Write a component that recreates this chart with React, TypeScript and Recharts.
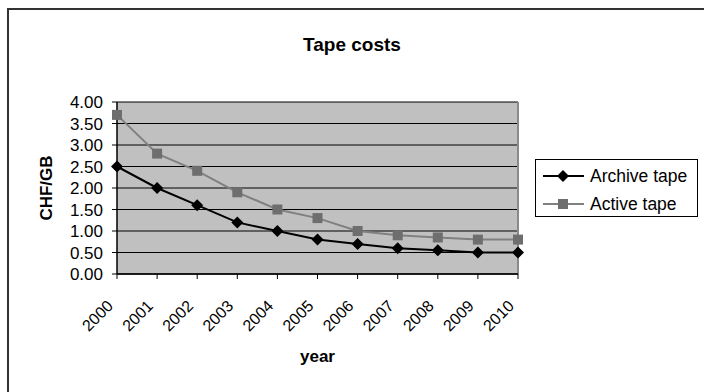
import { LineChart, Line, XAxis, YAxis, CartesianGrid, Legend, ReferenceLine } from "recharts";

const years = ["2000", "2001", "2002", "2003", "2004", "2005", "2006", "2007", "2008", "2009", "2010"];
const archiveTape = [2.5, 2.0, 1.6, 1.2, 1.0, 0.8, 0.7, 0.6, 0.55, 0.5, 0.5];
const activeTape = [3.7, 2.8, 2.4, 1.9, 1.5, 1.3, 1.0, 0.9, 0.85, 0.8, 0.8];
const yTicks = [0, 0.5, 1, 1.5, 2, 2.5, 3, 3.5, 4];

const data = years.map((year, i) => ({ year, archive: archiveTape[i], active: activeTape[i] }));

const FONT = "Arial, 'Liberation Sans', sans-serif";
const ACTIVE_LINE = "#808080";
const ACTIVE_MARK = "#6e6e6e";

const Diamond = ({ cx, cy, r = 6 }: any) => {
  if (cx == null || cy == null) return null;
  return <polygon points={`${cx},${cy - r} ${cx + r},${cy} ${cx},${cy + r} ${cx - r},${cy}`} fill="#000" />;
};

const Square = ({ cx, cy, s = 10 }: any) => {
  if (cx == null || cy == null) return null;
  return <rect x={cx - s / 2} y={cy - s / 2} width={s} height={s} fill={ACTIVE_MARK} />;
};

const YearTick = ({ x, y, payload }: any) => (
  <g transform={`translate(${x},${y})`}>
    <text x={-3} y={26} textAnchor="end" transform="rotate(-45, -3, 26)" fontSize={16} fill="#000" fontFamily={FONT}>
      {payload.value}
    </text>
  </g>
);

const YearLabel = ({ viewBox }: any) => (
  <text x={viewBox.x + viewBox.width / 2} y={viewBox.y + 88} textAnchor="middle" fontSize={17} fontWeight="bold" fontFamily={FONT} fill="#000">
    year
  </text>
);

const CostLabel = ({ viewBox }: any) => {
  const cx = viewBox.x - 11;
  const cy = viewBox.y + viewBox.height / 2;
  return (
    <text x={cx} y={cy} textAnchor="middle" dominantBaseline="central" transform={`rotate(-90, ${cx}, ${cy})`} fontSize={17} fontWeight="bold" fontFamily={FONT} fill="#000">
      CHF/GB
    </text>
  );
};

const LegendBox = () => {
  const rows = [
    { name: "Archive tape", color: "#000", mark: <Diamond cx={27} cy={14} r={6} /> },
    { name: "Active tape", color: ACTIVE_LINE, mark: <Square cx={27} cy={14} s={10} /> },
  ];
  return (
    <div style={{ width: 163, height: 58, boxSizing: "border-box", border: "1px solid #000", background: "#fff", paddingTop: 2 }}>
      {rows.map((r) => (
        <div key={r.name} style={{ display: "flex", alignItems: "center", height: 28 }}>
          <svg width={54} height={28} style={{ display: "block" }}>
            <line x1={7} y1={14} x2={48} y2={14} stroke={r.color} strokeWidth={2} />
            {r.mark}
          </svg>
          <span style={{ fontFamily: FONT, fontSize: 17.5, color: "#000", lineHeight: "28px" }}>{r.name}</span>
        </div>
      ))}
    </div>
  );
};

export default function App() {
  return (
    <div style={{ position: "absolute", left: 0, top: 0, width: 704, height: 392, overflow: "hidden", background: "#fff" }}>
      <div style={{ position: "absolute", left: 7, top: 8, width: 740, height: 420, border: "2px solid #333" }} />
      <div
        style={{
          position: "absolute",
          left: 0,
          top: 34,
          width: 704,
          textAlign: "center",
          fontFamily: FONT,
          fontWeight: "bold",
          fontSize: 19,
          lineHeight: "22px",
          color: "#000",
        }}
      >
        Tape costs
      </div>
      <div style={{ position: "absolute", left: 0, top: 0 }}>
        <LineChart width={704} height={392} data={data} margin={{ top: 102, right: 186, bottom: 58, left: 57 }}>
          <CartesianGrid vertical={false} stroke="#000" fill="#c0c0c0" fillOpacity={1} />
          <XAxis
            dataKey="year"
            height={60}
            tick={<YearTick />}
            tickSize={5}
            tickLine={{ stroke: "#000" }}
            axisLine={{ stroke: "#000", strokeWidth: 1.5 }}
            interval={0}
            label={<YearLabel />}
          />
          <YAxis
            width={60}
            domain={[0, 4]}
            ticks={yTicks}
            interval={0}
            tickFormatter={(v: number) => v.toFixed(2)}
            tick={{ fill: "#000", fontSize: 17, fontFamily: FONT }}
            tickSize={5}
            tickMargin={9}
            tickLine={{ stroke: "#000" }}
            axisLine={{ stroke: "#000", strokeWidth: 1.5 }}
            label={<CostLabel />}
          />
          <ReferenceLine x="2010" stroke="#8a8a8a" strokeWidth={2} />
          <Line
            type="linear"
            dataKey="active"
            name="Active tape"
            stroke={ACTIVE_LINE}
            strokeWidth={2}
            dot={<Square s={10} />}
            activeDot={false}
            isAnimationActive={false}
          />
          <Line
            type="linear"
            dataKey="archive"
            name="Archive tape"
            stroke="#000"
            strokeWidth={2}
            dot={<Diamond r={6} />}
            activeDot={false}
            isAnimationActive={false}
          />
          <Legend
            layout="horizontal"
            align="center"
            verticalAlign="middle"
            content={<LegendBox />}
            wrapperStyle={{ left: 535, top: 159, width: 163, height: 58, bottom: "auto" }}
          />
        </LineChart>
      </div>
    </div>
  );
}
